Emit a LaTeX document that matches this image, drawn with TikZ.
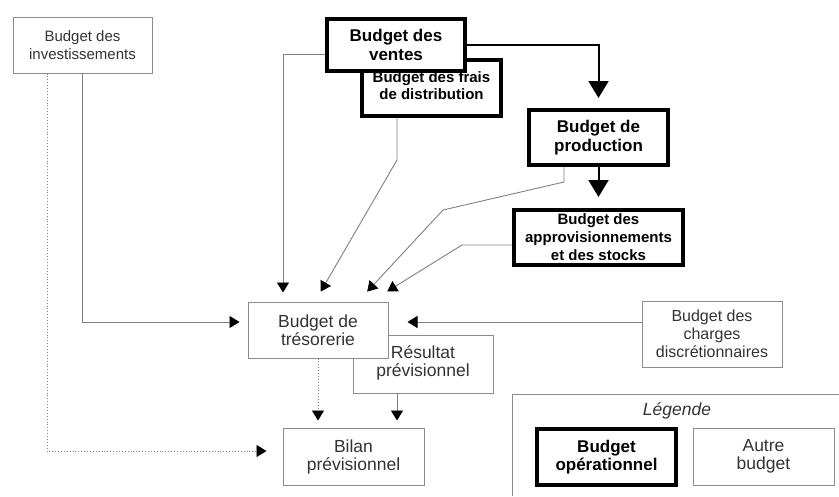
\documentclass[tikz,border=0pt]{standalone}
\usepackage{fontspec}
\setmainfont{Liberation Sans}
\usetikzlibrary{arrows.meta}

\tikzset{
	autre/.style={draw=black!45, fill=white, line width=1pt, align=center, text=black!80, font=\fontsize{16}{18}\selectfont},
	oper/.style={draw=black, fill=white, line width=4pt, align=center, font=\bfseries\fontsize{16}{18}\selectfont},
	fleche/.style={draw=black!50, line width=0.9pt, -{Triangle[width=12pt,length=10pt,black]}},
	pointille/.style={fleche, dotted},
	grosfleche/.style={draw=black, line width=2pt, -{Triangle[width=20pt,length=17pt]}},
}

\begin{document}
\begin{tikzpicture}[x=1pt,y=-1pt]
				
				\useasboundingbox (0,0) rectangle (839,496);
				
				\node[autre, minimum width=139pt, minimum height=56pt, font=\fontsize{15}{18}\selectfont] (inv) at (82.5,45) {Budget des\\investissements};
				\node[oper, minimum width=139pt, minimum height=56pt] (frais) at (431.5,88) {\raisebox{-7pt}{\fontsize{15}{17}\selectfont\begin{tabular}{@{}c@{}}Budget des frais\\de distribution\end{tabular}}};
				\node[oper, minimum width=138pt, minimum height=52pt, font=\bfseries\fontsize{17}{19}\selectfont] (ventes) at (396,45) {Budget des\\ventes};
				\node[oper, minimum width=139pt, minimum height=55pt, font=\bfseries\fontsize{17}{19}\selectfont] (prod) at (598.5,137.5) {Budget de\\production};
				\node[oper, minimum width=169pt, minimum height=55pt, font=\bfseries\fontsize{15}{18}\selectfont] (appro) at (598.5,237.5) {Budget des\\approvisionnements\\et des stocks};
				
				\node[autre, minimum width=140pt, minimum height=58pt, font=\fontsize{17.5}{18}\selectfont] (res) at (423,364) {\raisebox{-5pt}{\begin{tabular}{@{}c@{}}Résultat\\prévisionnel\end{tabular}}};
				\node[autre, minimum width=140pt, minimum height=56pt, font=\fontsize{17.5}{18}\selectfont] (tres) at (318,330) {Budget de\\trésorerie};
				\node[autre, minimum width=141pt, minimum height=57pt, font=\fontsize{17.5}{18}\selectfont] (bilan) at (353.5,456.5) {Bilan\\prévisionnel};
				\node[autre, minimum width=140pt, minimum height=66pt] (charges) at (712,334) {Budget des\\charges\\discrétionnaires};
				
				\draw[draw=black!45, line width=1pt] (512,496) |- (839,394);
				\node[font=\itshape\fontsize{17.5}{18}\selectfont, text=black!80] (leg) at (677,411) {Légende};
				\node[oper, minimum width=139pt, minimum height=56pt, font=\bfseries\fontsize{17}{18}\selectfont] (oper) at (606.5,457) {Budget\\opérationnel};
				\node[autre, minimum width=141pt, minimum height=57pt, font=\fontsize{17.5}{18}\selectfont] (autre) at (763.5,456.5) {Autre\\budget};
				
				\draw[grosfleche, shorten >=10pt] (ventes.east) -| (prod.north);
				\draw[grosfleche, shorten >=11pt] (prod.south) -- (appro.north);
				
				\draw[fleche, shorten >=9pt] ([yshift=-9pt]ventes.west) -| ([xshift=-35pt]tres.north);
				\draw[fleche, shorten >=11.5pt] ([xshift=-34.5pt]frais.south) -- ++(0,42) -- ([xshift=-3pt]tres.north);
				\draw[fleche, shorten >=13.5pt] ([xshift=-34.5pt]prod.south) -- ++(0,15) -- (443,210) -- ([xshift=40pt]tres.north);
				\draw[fleche, shorten >=19pt] ([yshift=-7.5pt]appro.west) -- (462,245) -- ([xshift=53pt]tres.north);
				\draw[fleche, shorten >=8pt] (inv.south) |- ([yshift=8pt]tres.west);
				\draw[fleche, shorten >=19pt] ([yshift=12pt]charges.west) -- ([yshift=8pt]tres.east);
				
				\draw[pointille, shorten >=16pt] ([xshift=-35.5pt]inv.south) |- ([yshift=5.5pt]bilan.west);
				\draw[pointille, shorten >=7pt] (tres.south) -- (tres.south |- bilan.north);
				\draw[fleche, shorten >=7pt] ([xshift=-26pt]res.south) -- ([xshift=-26pt]res.south |- bilan.north);
				
			\end{tikzpicture}
\end{document}
